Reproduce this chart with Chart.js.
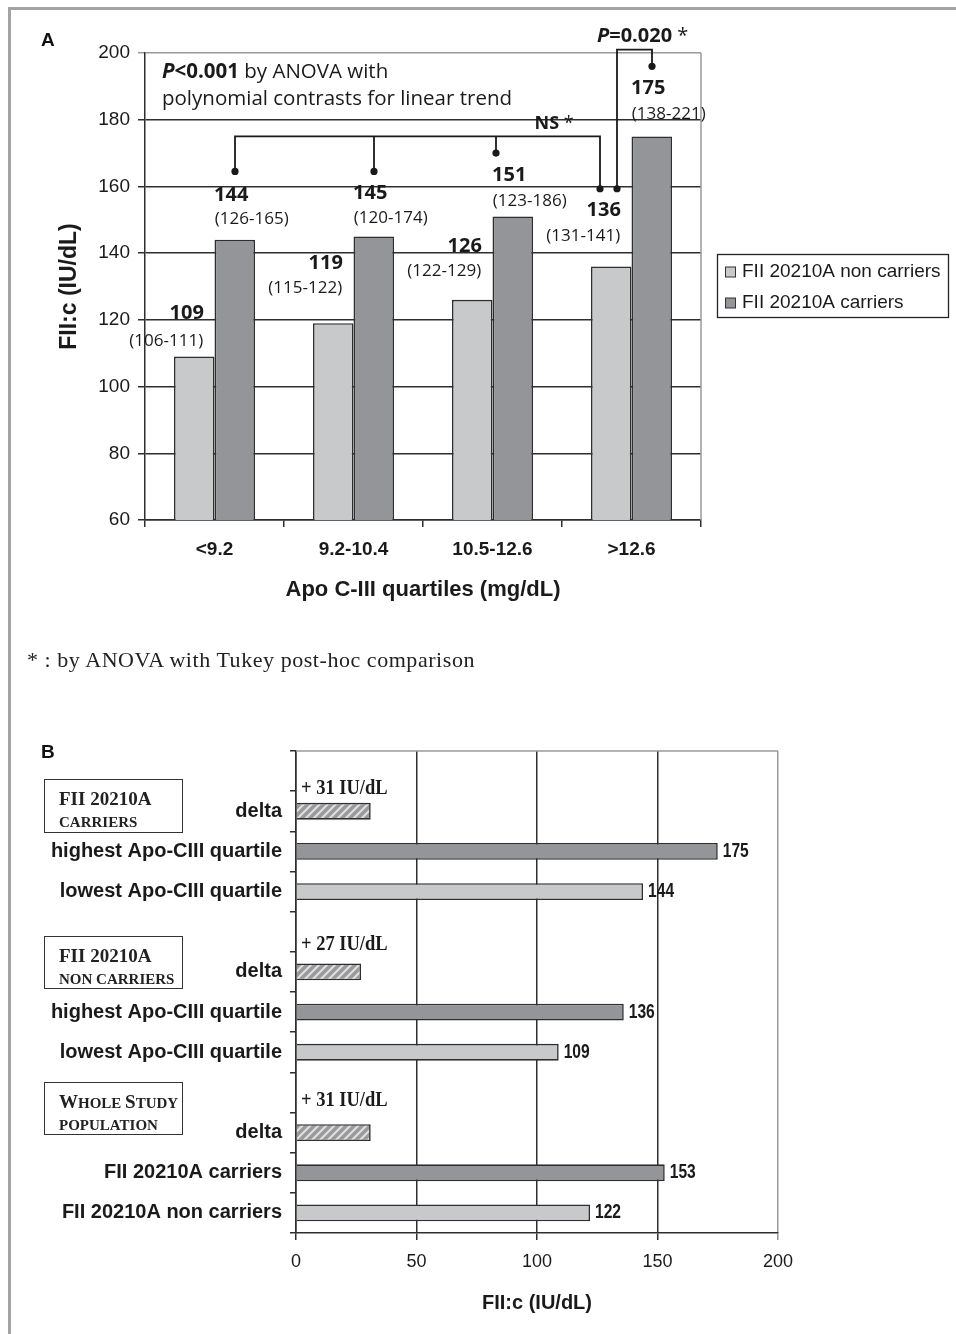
<!DOCTYPE html>
<html>
<head>
<meta charset="utf-8">
<script src="https://cdn.jsdelivr.net/npm/chart.js@4.4.1/dist/chart.umd.min.js"></script>
<style>
  html, body { margin: 0; padding: 0; background: #fff; }
  body { width: 956px; height: 1334px; position: relative; overflow: hidden; }
  .rule { position: absolute; background: #a3a3a3; }
  canvas { position: absolute; left: 0; }
  #chartA { top: 0; }
  #chartB { top: 700px; }
  .panel { position: absolute; font: bold 19px 'Liberation Sans', Arial, sans-serif; color: #111; line-height: 22px; }
  .note { position: absolute; left: 27px; top: 648px; font: 22px 'Liberation Serif', 'Times New Roman', serif; letter-spacing: 0.55px; color: #222; white-space: nowrap; line-height: 24px; }
  .grp { position: absolute; left: 44px; width: 137px; border: 1.5px solid #333; font-family: 'Liberation Serif', 'Times New Roman', serif; font-weight: bold; color: #222; }
  .grp .l1 { position: absolute; left: 14px; top: 8px; font-size: 19px; line-height: 22px; white-space: nowrap; }
  .grp .l2 { position: absolute; left: 14px; top: 33px; font-size: 15px; line-height: 18px; white-space: nowrap; }
  .grp .big { font-size: 19px; }
  .grp .sm { font-size: 15px; }
</style>
</head>
<body>
<div class="rule" style="left:8px;top:7px;width:948px;height:3px;"></div>
<div class="rule" style="left:8px;top:7px;width:3px;height:1327px;"></div>

<canvas id="chartA" width="956" height="620"></canvas>
<canvas id="chartB" width="956" height="634"></canvas>

<div class="panel" style="left:41px;top:29px;">A</div>
<div class="panel" style="left:41px;top:741px;">B</div>
<div class="note">* : by ANOVA with Tukey post-hoc comparison</div>

<div class="grp" style="top:779px;height:52px;"><div class="l1">FII 20210A</div><div class="l2">CARRIERS</div></div>
<div class="grp" style="top:936px;height:51px;"><div class="l1">FII 20210A</div><div class="l2">NON CARRIERS</div></div>
<div class="grp" style="top:1082px;height:51px;"><div class="l1"><span class="big">W</span><span class="sm">HOLE </span><span class="big">S</span><span class="sm">TUDY</span></div><div class="l2">POPULATION</div></div>

<script>
// ---------- Panel A: FII:c by Apo C-III quartile ----------
const quartiles = ['<9.2', '9.2-10.4', '10.5-12.6', '>12.6'];
const nonCarriers = [109, 119, 126, 136];
const nonCarriersLow = [106, 115, 122, 131];
const nonCarriersHigh = [111, 122, 129, 141];
const carriers = [144, 145, 151, 175];
const carriersLow = [126, 120, 123, 138];
const carriersHigh = [165, 174, 186, 221];
const yTicksA = [60, 80, 100, 120, 140, 160, 180, 200];

// ---------- Panel B: highest vs lowest quartile ----------
const rowsB = ['', 'delta', 'highest Apo-CIII quartile', 'lowest Apo-CIII quartile',
               '', 'delta', 'highest Apo-CIII quartile', 'lowest Apo-CIII quartile',
               '', 'delta', 'FII 20210A carriers', 'FII 20210A non carriers'];
const valuesB = [null, 31, 175, 144, null, 27, 136, 109, null, 31, 153, 122];
const xTicksB = [0, 50, 100, 150, 200];

// styling
const LIGHT = '#c8c9cb';
const DARK = '#939598';
const EDGE = '#2e2e2e';
const SANS = "'Liberation Sans', Arial, sans-serif";
const CAL = "'Open Sans', 'Noto Sans', sans-serif";
const SERIF = "'Liberation Serif', 'Times New Roman', serif";

// label placement (pixels above the bar top)
const lightValueLift = [43, 60, 54, 56];
const lightRangeLift = [15, 35, 29, 30];
const darkValueLift = [45, 43, 41, 48];
const darkRangeLift = [21, 18, 15, 22];
const deltaTextLift = [23, 27, 32];

function drawRuns(ctx, runs, x, y) {
  let cx = x;
  runs.forEach(([font, txt]) => {
    ctx.font = font;
    ctx.fillText(txt, cx, y);
    cx += ctx.measureText(txt).width;
  });
}

// condensed text: squeeze horizontally around the anchor point
function narrowText(ctx, txt, x, y, squeeze) {
  ctx.save();
  ctx.translate(x, y);
  ctx.scale(squeeze, 1);
  ctx.fillText(txt, 0, 0);
  ctx.restore();
}

const panelAExtras = {
  id: 'panelAExtras',
  afterDraw(chart) {
    const { ctx, chartArea: a, scales: { x, y } } = chart;
    ctx.save();
    // plot frame on the right
    ctx.strokeStyle = '#9a9a9a';
    ctx.lineWidth = 1.5;
    ctx.beginPath();
    ctx.moveTo(a.right, a.top);
    ctx.lineTo(a.right, a.bottom);
    ctx.stroke();

    // value and range labels
    ctx.fillStyle = '#1a1a1a';
    ctx.textBaseline = 'middle';
    ctx.textAlign = 'center';
    const mLight = chart.getDatasetMeta(0).data;
    const mDark = chart.getDatasetMeta(1).data;
    mLight.forEach((bar, i) => {
      ctx.font = `bold 20px ${CAL}`;
      ctx.fillText(String(nonCarriers[i]), bar.x - 7.5, bar.y - lightValueLift[i]);
      ctx.font = `17px ${CAL}`;
      ctx.fillText(`(${nonCarriersLow[i]}-${nonCarriersHigh[i]})`, bar.x - 28, bar.y - lightRangeLift[i]);
    });
    mDark.forEach((bar, i) => {
      ctx.font = `bold 20px ${CAL}`;
      ctx.fillText(String(carriers[i]), bar.x - 3.5, bar.y - darkValueLift[i]);
      ctx.font = `17px ${CAL}`;
      ctx.fillText(`(${carriersLow[i]}-${carriersHigh[i]})`, bar.x + 17, bar.y - darkRangeLift[i]);
    });

    // trend statement
    ctx.textAlign = 'left';
    drawRuns(ctx, [[`italic bold 20.5px ${CAL}`, 'P'], [`bold 20.5px ${CAL}`, '<0.001'], [`20.5px ${CAL}`, ' by ANOVA with']], a.left + 17, 72);
    ctx.font = `20.5px ${CAL}`;
    ctx.fillText('polynomial contrasts for linear trend', a.left + 17, 99);

    // comparison brackets
    const cx = i => x.getPixelForValue(i);
    const py = v => y.getPixelForValue(v);
    ctx.strokeStyle = '#1a1a1a';
    ctx.lineWidth = 1.8;
    const dot = (px, pv) => { ctx.beginPath(); ctx.arc(px, py(pv), 3.6, 0, Math.PI * 2); ctx.fill(); };
    const legs = [[cx(0) + 20.5, 164.5], [cx(1) + 20.5, 164.5], [cx(2) + 3.5, 170], [cx(3) - 31.5, 159.3]];
    ctx.beginPath();
    ctx.moveTo(legs[0][0], py(legs[0][1]));
    ctx.lineTo(legs[0][0], py(175));
    ctx.lineTo(legs[3][0], py(175));
    ctx.lineTo(legs[3][0], py(legs[3][1]));
    legs.slice(1, 3).forEach(([lx, lv]) => { ctx.moveTo(lx, py(175)); ctx.lineTo(lx, py(lv)); });
    ctx.stroke();
    legs.forEach(([lx, lv]) => dot(lx, lv));

    const p1 = cx(3) - 14.5, p2 = cx(3) + 20.5;
    ctx.beginPath();
    ctx.moveTo(p1, py(159.3));
    ctx.lineTo(p1, py(201));
    ctx.lineTo(p2, py(201));
    ctx.lineTo(p2, py(196));
    ctx.stroke();
    dot(p1, 159.3);
    dot(p2, 196);

    drawRuns(ctx, [[`bold 18px ${CAL}`, 'NS'], [`18px ${CAL}`, ' *']], cx(3) - 97, 124);
    drawRuns(ctx, [[`italic bold 20px ${CAL}`, 'P'], [`bold 20px ${CAL}`, '=0.020'], [`20px ${CAL}`, ' *']], cx(3) - 34.5, 36);

    // legend
    ctx.strokeStyle = '#222';
    ctx.lineWidth = 1.3;
    ctx.strokeRect(717.5, 254.5, 231, 63);
    const items = [[LIGHT, 'FII 20210A non carriers', 272], [DARK, 'FII 20210A carriers', 303]];
    ctx.font = `19px ${SANS}`;
    ctx.lineWidth = 1;
    items.forEach(([col, txt, ly]) => {
      ctx.fillStyle = col;
      ctx.fillRect(725.5, ly - 5, 10, 10);
      ctx.strokeStyle = '#333';
      ctx.strokeRect(725.5, ly - 5, 10, 10);
      ctx.fillStyle = '#1a1a1a';
      ctx.fillText(txt, 742, ly);
    });
    ctx.restore();
  }
};

new Chart(document.getElementById('chartA'), {
  type: 'bar',
  data: {
    labels: quartiles,
    datasets: [
      { label: 'FII 20210A non carriers', data: nonCarriers, backgroundColor: LIGHT, borderColor: EDGE, borderWidth: 1.6 },
      { label: 'FII 20210A carriers', data: carriers, backgroundColor: DARK, borderColor: EDGE, borderWidth: 1.6 }
    ]
  },
  options: {
    responsive: false,
    animation: false,
    events: [],
    datasets: { bar: { categoryPercentage: 0.583, barPercentage: 1.0 } },
    layout: { padding: { left: 0, top: 53, right: 255, bottom: 0 } },
    plugins: { legend: { display: false }, tooltip: { enabled: false } },
    scales: {
      x: {
        afterFit(s) { s.height = 100; },
        grid: { offset: true, drawOnChartArea: false, tickLength: 7, color: EDGE, lineWidth: 1.5 },
        border: { color: EDGE, width: 1.5 },
        ticks: { color: '#1a1a1a', font: { family: SANS, size: 19, weight: 'bold' }, padding: 11 },
        title: { display: true, text: 'Apo C-III quartiles (mg/dL)', color: '#1a1a1a', font: { family: SANS, size: 22, weight: 'bold' }, padding: { top: 0, bottom: 17 } }
      },
      y: {
        min: yTicksA[0],
        max: yTicksA[yTicksA.length - 1],
        afterFit(s) { s.width = 145; },
        afterBuildTicks(s) { s.ticks = yTicksA.map(v => ({ value: v })); },
        grid: { color: c => (c.tick && c.tick.value === 200 ? '#9a9a9a' : EDGE), lineWidth: 1.5, tickLength: 7 },
        border: { color: EDGE, width: 1.5 },
        ticks: { color: '#1a1a1a', font: { family: SANS, size: 19 }, padding: 8 },
        title: { display: true, text: 'FII:c (IU/dL)', color: '#1a1a1a', font: { family: SANS, size: 23, weight: 'bold' }, padding: { top: 56, bottom: 0 } }
      }
    }
  },
  plugins: [panelAExtras]
});

// ---------- Panel B ----------
function hatch() {
  const s = 8;
  const c = document.createElement('canvas');
  c.width = s; c.height = s;
  const g = c.getContext('2d');
  g.fillStyle = '#9a9a9c';
  g.fillRect(0, 0, s, s);
  g.strokeStyle = '#dedede';
  g.lineWidth = 2.2;
  g.beginPath();
  g.moveTo(0, s); g.lineTo(s, 0);
  g.moveTo(-2, 2); g.lineTo(2, -2);
  g.moveTo(s - 2, s + 2); g.lineTo(s + 2, s - 2);
  g.stroke();
  return document.getElementById('chartB').getContext('2d').createPattern(c, 'repeat');
}
const HATCH = hatch();
const shadeB = rowsB.map(r => r === 'delta' ? HATCH
  : (r.startsWith('highest') || r === 'FII 20210A carriers') ? DARK : LIGHT);

const panelBExtras = {
  id: 'panelBExtras',
  afterDraw(chart) {
    const { ctx, chartArea: a } = chart;
    ctx.save();
    ctx.strokeStyle = '#9a9a9a';
    ctx.lineWidth = 1.5;
    ctx.beginPath();
    ctx.moveTo(a.left, a.top);
    ctx.lineTo(a.right, a.top);
    ctx.stroke();

    const bars = chart.getDatasetMeta(0).data;
    ctx.fillStyle = '#1a1a1a';
    ctx.textBaseline = 'middle';
    ctx.textAlign = 'left';
    let d = 0;
    rowsB.forEach((r, i) => {
      const v = valuesB[i];
      if (v === null) return;
      const bar = bars[i];
      if (r === 'delta') {
        ctx.font = `bold 21px ${SERIF}`;
        narrowText(ctx, `+ ${v} IU/dL`, a.left + 5, bar.y - deltaTextLift[d], 0.88);
        d++;
      } else {
        ctx.font = `bold 20px ${SANS}`;
        narrowText(ctx, String(v), bar.x + 5, bar.y, 0.78);
      }
    });
    ctx.restore();
  }
};

new Chart(document.getElementById('chartB'), {
  type: 'bar',
  data: {
    labels: rowsB,
    datasets: [{
      data: valuesB,
      backgroundColor: shadeB,
      borderColor: EDGE,
      borderWidth: 1.6,
      categoryPercentage: 1.0,
      barPercentage: 0.42
    }]
  },
  options: {
    indexAxis: 'y',
    responsive: false,
    animation: false,
    events: [],
    layout: { padding: { left: 0, top: 51, right: 178, bottom: 0 } },
    plugins: { legend: { display: false }, tooltip: { enabled: false } },
    scales: {
      x: {
        min: xTicksB[0],
        max: xTicksB[xTicksB.length - 1],
        afterFit(s) { s.height = 101; },
        afterBuildTicks(s) { s.ticks = xTicksB.map(v => ({ value: v })); },
        grid: { color: c => (c.tick && c.tick.value === 200 ? '#9a9a9a' : EDGE), lineWidth: 1.5, tickLength: 7 },
        border: { color: EDGE, width: 1.5 },
        ticks: { color: '#1a1a1a', font: { family: SANS, size: 18 }, padding: 11 },
        title: { display: true, text: 'FII:c (IU/dL)', color: '#1a1a1a', font: { family: SANS, size: 20, weight: 'bold' }, padding: { top: 0, bottom: 19 } }
      },
      y: {
        afterFit(s) { s.width = 296; },
        grid: { offset: true, drawOnChartArea: false, tickLength: 6, color: EDGE, lineWidth: 1.5 },
        border: { color: EDGE, width: 1.5 },
        ticks: { color: '#1a1a1a', font: { family: SANS, size: 20, weight: 'bold' }, padding: 8, autoSkip: false }
      }
    }
  },
  plugins: [panelBExtras]
});
</script>
</body>
</html>
